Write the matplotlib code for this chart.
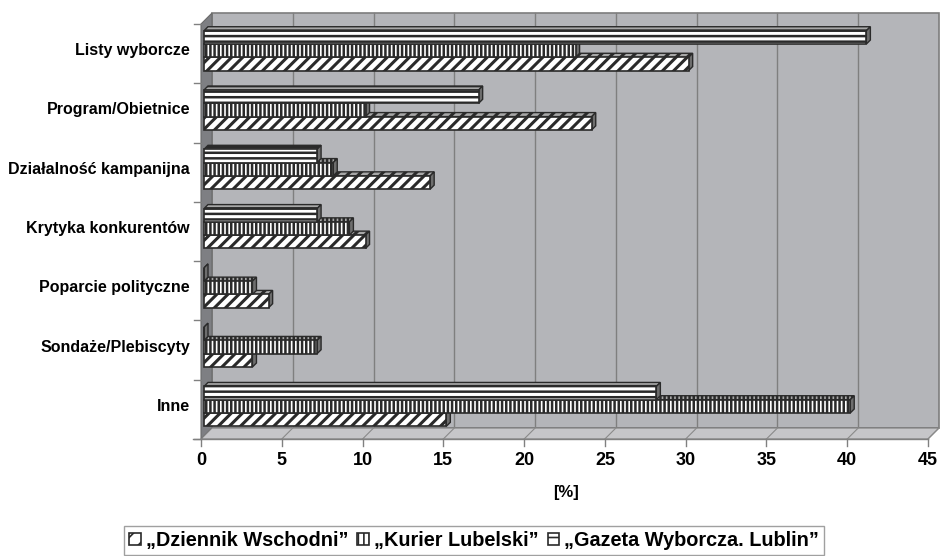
"""
Tematyka materiałów wyborczych w prasie lubelskiej - wykres słupkowy 3D
"""
import numpy as np
import matplotlib
matplotlib.use('Agg')
import matplotlib.pyplot as plt
import matplotlib.transforms as mtransforms
from matplotlib.patches import Polygon, Rectangle

plt.rcParams['font.family'] = ['Liberation Sans', 'DejaVu Sans']
plt.rcParams['font.weight'] = 'bold'

# dane [%]
categories = ['Listy wyborcze', 'Program/Obietnice', 'Działalność kampanijna',
              'Krytyka konkurentów', 'Poparcie polityczne', 'Sondaże/Plebiscyty', 'Inne']
dziennik = [30, 24, 14, 10, 4, 3, 15]
kurier = [23, 10, 8, 9, 3, 7, 40]
gazeta = [41, 17, 7, 7, 0, 0, 28]
series_names = ['\u201eDziennik Wschodni\u201d', '\u201eKurier Lubelski\u201d',
                '\u201eGazeta Wyborcza. Lublin\u201d']
xticks = np.arange(0, 50, 5)

DPI = 100
W, H = 940, 556
DEPTH = 11              # głębokość ścian wykresu (px)
BAR_D0, BAR_D1 = 3, 7   # przód i tył słupka (px)

fig = plt.figure(figsize=(W / DPI, H / DPI), dpi=DPI)
x0, x1 = 201, 928
y_top, y_bot = 24, 439
ax = fig.add_axes([x0 / W, (H - y_bot) / H, (x1 - x0) / W, (y_bot - y_top) / H])
n = len(categories)
ax.set_xlim(0, 45)
ax.set_ylim(-0.5, n - 0.5)
ax.axis('off')
ident = mtransforms.IdentityTransform()


def shifted(d):
    return ax.transData + mtransforms.ScaledTranslation(d / DPI, d / DPI, fig.dpi_scale_trans)


def pt(x, y, d=0):
    px, py = ax.transData.transform((x, y))
    return (px + d, py + d)


def poly(verts, z, **kw):
    ax.add_patch(Polygon(verts, closed=True, transform=ident, clip_on=False, zorder=z, **kw))


def line(a, b, z=1.2, color='#808080', lw=1):
    ax.add_line(plt.Line2D([a[0], b[0]], [a[1], b[1]], color=color, lw=lw,
                           transform=ident, clip_on=False, zorder=z))


ylo, yhi = -0.5, n - 0.5

# tylna ściana z liniami siatki
ax.add_patch(Rectangle((0, ylo), 45, n, facecolor='#b4b5b9', edgecolor='#7d7d7d',
                       lw=1.2, transform=shifted(DEPTH), clip_on=False, zorder=0))
for v in xticks[1:-1]:
    ax.plot([v, v], [ylo, yhi], color='#7f7f7f', lw=1, transform=shifted(DEPTH),
            clip_on=False, zorder=0.5)

# lewa ściana
poly([pt(0, ylo), pt(0, yhi), pt(0, yhi, DEPTH), pt(0, ylo, DEPTH)], 1,
     facecolor='#7e7f83', edgecolor='#6a6a6a', lw=0.8)

# podłoga
poly([pt(0, ylo), pt(45, ylo), pt(45, ylo, DEPTH), pt(0, ylo, DEPTH)], 1,
     facecolor='#c6c6c9', edgecolor='#7d7d7d', lw=0.8)
for v in xticks[1:]:
    line(pt(v, ylo), pt(v, ylo, DEPTH), z=1.1, color='#8a8a8a', lw=0.8)

# oś X i znaczniki
a, b = pt(0, ylo), pt(45, ylo)
line((a[0] - 8, a[1]), b)
for v in xticks:
    p = pt(v, ylo)
    line(p, (p[0], p[1] - 7))
    fig.text(p[0] / W, (p[1] - 13) / H, str(v), ha='center', va='top', fontsize=13,
             fontweight='bold')

# oś Y - znaczniki między kategoriami i etykiety
for k in range(n + 1):
    p = pt(0, ylo + k)
    line((p[0] - 7, p[1]), p)
for i, cat in enumerate(categories):
    p = pt(0, n - 1 - i)
    fig.text((p[0] - 11) / W, (p[1] + 3) / H, cat, ha='right', va='center',
             fontsize=11.5, fontweight='bold')

fig.text(566 / W, 1 - 492 / H, '[%]', ha='center', va='center', fontsize=12,
         fontweight='bold')

# słupki
bar_h = 0.224
styles = [
    dict(hatch='///', hlw=2.2),     # Dziennik Wschodni
    dict(hatch='||||', hlw=1.8),    # Kurier Lubelski
    dict(hatch='---', hlw=1.8),     # Gazeta Wyborcza
]
offsets = [-bar_h, 0, bar_h]
edge = '#2a2a2a'
front = shifted(BAR_D0)
for i in range(n):
    yc = n - 1 - i
    for s, vals in enumerate([dziennik, kurier, gazeta]):
        v = vals[i]
        yb = yc + offsets[s] - bar_h / 2
        yt = yb + bar_h
        plt.rcParams['hatch.linewidth'] = styles[s]['hlw']
        z = 3 + i * 0.1 + s * 0.02
        # górna ściana
        poly([pt(0, yt, BAR_D0), pt(v, yt, BAR_D0), pt(v, yt, BAR_D1), pt(0, yt, BAR_D1)], z,
             facecolor='#a8a8a8', edgecolor=edge, lw=1, hatch=styles[s]['hatch'])
        # prawa ściana
        poly([pt(v, yb, BAR_D0), pt(v, yt, BAR_D0), pt(v, yt, BAR_D1), pt(v, yb, BAR_D1)],
             z + 0.005, facecolor='#6e6e6e', edgecolor=edge, lw=1)
        # przód
        ax.barh(yc + offsets[s], v, height=bar_h, color='white', edgecolor=edge, lw=1.2,
                hatch=styles[s]['hatch'], transform=front, clip_on=False, zorder=z + 0.01)

# legenda
plt.rcParams['hatch.linewidth'] = 1.2
handles = [Rectangle((0, 0), 1, 1, facecolor='white', edgecolor=edge, lw=1.2, hatch=h)
           for h in ['//', '|||', '--']]
leg = fig.legend(handles, series_names, loc='lower center', ncol=3,
                 bbox_to_anchor=(474 / W, -0.016), frameon=True, fancybox=False,
                 edgecolor='#a0a0a0', framealpha=1, prop=dict(weight='bold', size=14.3),
                 handlelength=0.6, handleheight=0.6, handletextpad=0.25,
                 columnspacing=0.45, borderpad=0.25)
leg.get_frame().set_linewidth(1)

fig.savefig('out.png', dpi=DPI)
